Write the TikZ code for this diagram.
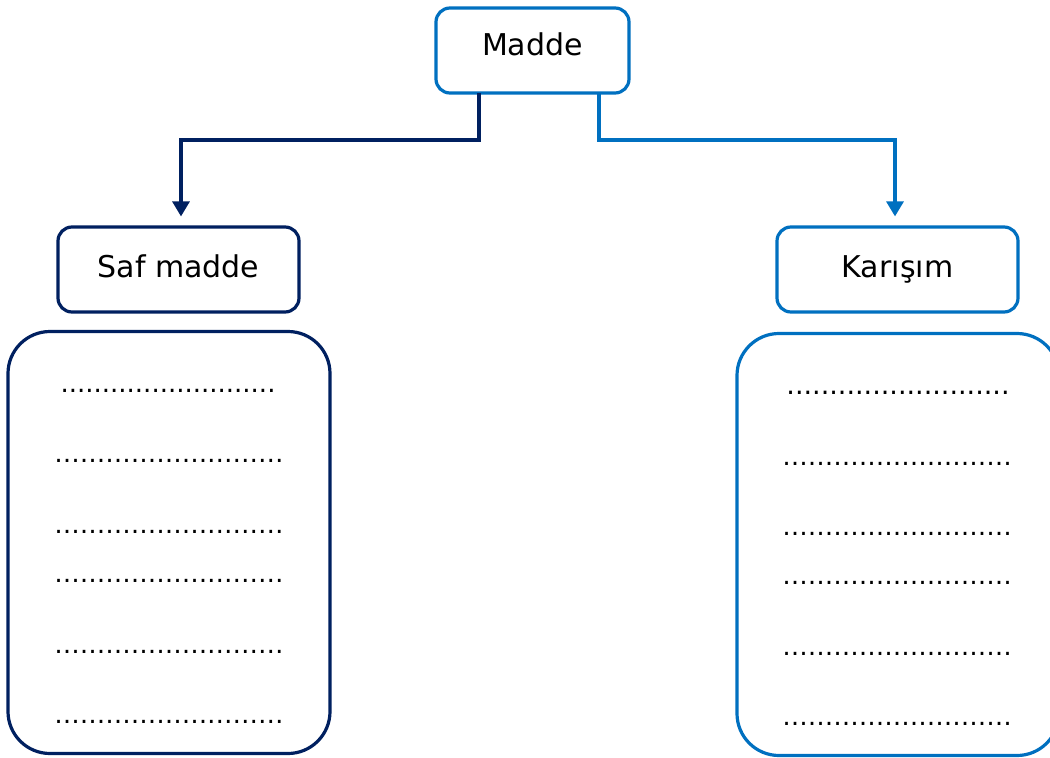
\documentclass[tikz,border=0pt]{standalone}
\usepackage{fontspec}
\setmainfont{DejaVu Sans}
\usetikzlibrary{arrows.meta}
\definecolor{navy}{HTML}{002060}
\definecolor{mblue}{HTML}{0070C0}
\newcommand{\dotsnine}{\char"2026\char"2026\char"2026\char"2026\char"2026\char"2026\char"2026\char"2026\char"2026}
\begin{document}
\begin{tikzpicture}[x=1pt,y=-1pt,
  smallbox/.style={draw,line width=3.2pt,rounded corners=14pt,minimum width=#1,minimum height=85pt,inner sep=0pt},
  bigbox/.style={draw,line width=3.2pt,rounded corners=42pt,minimum width=322pt,minimum height=422pt,inner sep=0pt},
  lbl/.style={anchor=base,inner sep=0pt,font=\fontsize{30}{34}\selectfont},
  dotline/.style={anchor=base,inner sep=0pt,font=\fontsize{25.5}{30}\selectfont},
  firstline/.style={anchor=base,inner sep=0pt,font=\fontsize{#1}{32}\selectfont},
  conn/.style={line width=3.2pt,-{Triangle[width=17pt,length=15pt]},shorten >=9pt}
]
\clip (0,0) rectangle (1050,758);
\fill[white] (0,0) rectangle (1050,758);
% boxes
\node[smallbox=193pt,mblue] (madde) at (532.5,50.5) {};
\node[smallbox=241pt,navy] (saf) at (178.5,269.5) {};
\node[smallbox=241pt,mblue] (kar) at (897.5,269.5) {};
\node[bigbox,navy] (lbig) at (169,542.5) {};
\node[bigbox,mblue] (rbig) at (898,544.5) {};
% labels
\node[lbl] (tmadde) at (532.5,55) {Madde};
\node[lbl] (tsaf) at (178.5,277) {Saf madde};
\node[lbl] (tkar) at (897.5,277) {Karışım};
% connectors
\coordinate (lt) at (479,93);
\coordinate (rt) at (599,93);
\draw[conn,navy] (lt) -- (479,140) -| (saf.north -| 181,0);
\draw[conn,mblue] (rt) -- (599,140) -| (kar.north -| 895,0);
% dot lines left
\node[firstline=26] (l1) at (168,392) {..........................};
\node[dotline] (l2) at (169,462) {\dotsnine};
\node[dotline] (l3) at (169,533) {\dotsnine};
\node[dotline] (l4) at (169,582) {\dotsnine};
\node[dotline] (l5) at (169,653) {\dotsnine};
\node[dotline] (l6) at (169,723) {\dotsnine};
% dot lines right
\node[firstline=27] (r1) at (898,394) {..........................};
\node[dotline] (r2) at (897,465) {\dotsnine};
\node[dotline] (r3) at (897,535) {\dotsnine};
\node[dotline] (r4) at (897,584) {\dotsnine};
\node[dotline] (r5) at (897,655) {\dotsnine};
\node[dotline] (r6) at (897,725) {\dotsnine};
\end{tikzpicture}
\end{document}
